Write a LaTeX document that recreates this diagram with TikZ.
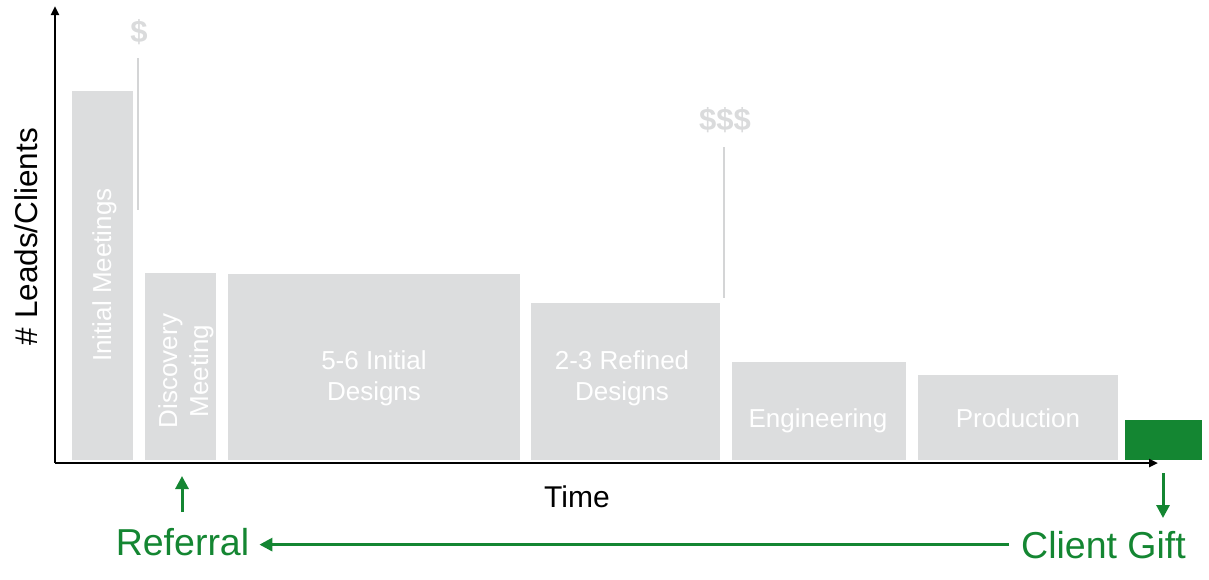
\documentclass[tikz,border=0pt]{standalone}
\usepackage{fontspec}
\setmainfont{Liberation Sans}
\usetikzlibrary{arrows.meta}
\definecolor{barg}{RGB}{220,221,222}
\definecolor{lineg}{RGB}{212,213,214}
\definecolor{dolg}{RGB}{218,219,220}
\definecolor{gr}{RGB}{20,134,50}
\tikzset{
  bar/.style={fill=barg, draw=none, inner sep=0pt, outer sep=0pt},
  gbar/.style={fill=gr, draw=none, inner sep=0pt, outer sep=0pt},
  barlbl/.style={text=white, align=center, inner sep=0pt, font=\fontsize{26}{31}\selectfont},
  axis/.style={line width=2.6pt, -{Triangle[length=9pt,width=8pt]}},
  garrow/.style={draw=gr, line width=3pt, -{Triangle[length=13pt,width=13pt]}},
  gtext/.style={text=gr, inner sep=0pt, font=\fontsize{37.5}{40}\selectfont},
  dollar/.style={text=dolg, inner sep=0pt, font=\bfseries\fontsize{31}{34}\selectfont},
  guide/.style={draw=lineg, line width=1.4pt},
}
\begin{document}
\begin{tikzpicture}[x=1pt,y=-1pt]
\useasboundingbox (0,0) rectangle (1209,579);
% bars
\node[bar, minimum width=61pt, minimum height=369pt] (b1) at (102.5,275.5) {};
\node[bar, minimum width=71pt, minimum height=187pt] (b2) at (180.5,366.5) {};
\node[bar, minimum width=292pt, minimum height=186pt] (b3) at (374,367) {};
\node[bar, minimum width=189pt, minimum height=157pt] (b4) at (625.5,381.5) {};
\node[bar, minimum width=174pt, minimum height=98pt] (b5) at (819,411) {};
\node[bar, minimum width=200pt, minimum height=85pt] (b6) at (1018,417.5) {};
\node[gbar, minimum width=77pt, minimum height=40pt] (gift) at (1163.5,440) {};
% bar labels
\node[barlbl, rotate=90, anchor=base] (l1) at (111,275) {Initial Meetings};
\node[barlbl, rotate=90, anchor=base] (l2) at (208,371) {Discovery\\Meeting};
\node[barlbl, anchor=base] (l3) at (374,400) {5-6 Initial\\Designs};
\node[barlbl, anchor=base] (l4) at (622,400) {2-3 Refined\\Designs};
\node[barlbl, anchor=base] (l5) at (818,427) {Engineering};
\node[barlbl, anchor=base] (l6) at (1018,427) {Production};
% axes
\coordinate (O) at (55,463);
\coordinate (ytip) at (55,6);
\coordinate (xtip) at (1158,463);
\draw[axis] (O) -- (ytip);
\draw[axis] (O) -- (xtip);
\node[inner sep=0pt, rotate=90, anchor=base, font=\fontsize{31.5}{34}\selectfont] (ylab) at (37,236.5) {\# Leads/Clients};
\node[inner sep=0pt, anchor=base, font=\fontsize{30}{34}\selectfont] (xlab) at (577,507) {Time};
% dollar markers
\node[dollar] (d1) at (139,32) {\$};
\node[dollar] (d3) at (725,120) {\$\$\$};
\coordinate (d1a) at (138,58);
\coordinate (d1b) at (138,210);
\coordinate (d3a) at (724,147);
\coordinate (d3b) at (724,298);
\draw[guide] (d1a) -- (d1b);
\draw[guide] (d3a) -- (d3b);
% referral loop
\node[gtext, anchor=base] (ref) at (182.5,555) {Referral};
\node[gtext, anchor=base] (cg) at (1103.5,558) {Client Gift};
\coordinate (upB) at (182,512);
\coordinate (upT) at (182,476);
\coordinate (dnT) at (1163,473);
\coordinate (dnB) at (1163,518);
\draw[garrow] (upB) -- (upT);
\draw[garrow] (dnT) -- (dnB);
\draw[garrow, shorten >=10pt, shorten <=12pt] (cg.west) -- (ref.east |- cg.west);
\end{tikzpicture}
\end{document}
